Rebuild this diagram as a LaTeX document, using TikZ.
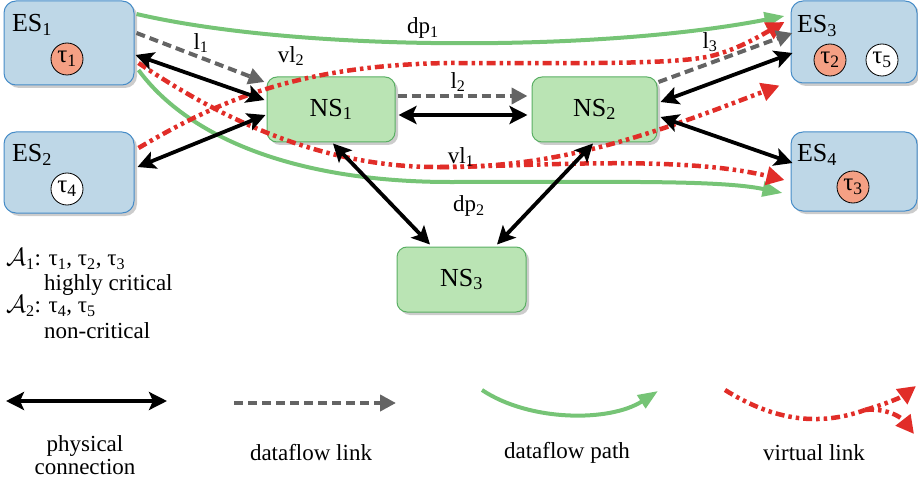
\documentclass[tikz,border=0pt]{standalone}
\usepackage{fontspec}
\setmainfont{Liberation Serif}
\usepackage{amsmath}
\usetikzlibrary{arrows.meta,shadows}
\definecolor{esfill}{RGB}{190,215,231}
\definecolor{esdraw}{RGB}{70,140,200}
\definecolor{nsfill}{RGB}{186,228,180}
\definecolor{nsdraw}{RGB}{90,175,100}
\definecolor{taufill}{RGB}{245,160,132}
\definecolor{pathgreen}{RGB}{118,196,118}
\definecolor{vlred}{RGB}{225,45,40}
\definecolor{flowgray}{RGB}{100,100,100}
\newcommand\sbs[1]{\ensuremath{_{\text{#1}}}}
\tikzset{
  shad/.style={drop shadow={shadow xshift=3pt,shadow yshift=-3pt,fill=black,opacity=0.2}},
  esbox/.style={draw=esdraw,fill=esfill,line width=1pt,rounded corners=12pt,shad,inner sep=0pt},
  nsbox/.style={draw=nsdraw,fill=nsfill,line width=1pt,rounded corners=10pt,shad,inner sep=0pt,minimum width=128pt,minimum height=65pt,font=\fontsize{26}{30}\selectfont},
  eslab/.style={inner sep=0pt,font=\fontsize{26}{30}\selectfont},
  task/.style={circle,draw=black,line width=0.8pt,minimum size=32pt,inner sep=0pt,font=\fontsize{25}{28}\selectfont},
  crit/.style={task,fill=taufill},
  noncrit/.style={task,fill=white},
  lab/.style={inner sep=0pt,font=\fontsize{23}{27}\selectfont},
  phys/.style={line width=3.8pt,black,{Stealth[length=18pt,width=18pt,inset=4pt]}-{Stealth[length=18pt,width=18pt,inset=4pt]}},
  flowlink/.style={line width=4pt,flowgray,dash pattern=on 9pt off 5pt,-{Triangle[length=16pt,width=16pt]}},
  dpath/.style={line width=4pt,pathgreen,-{Triangle[length=20pt,width=15pt]}},
  vlink/.style={line width=4.5pt,vlred,dash pattern=on 9pt off 4pt on 3.5pt off 4pt on 3.5pt off 4pt},
  vlinkarr/.style={vlink,-{Triangle[length=18pt,width=18pt]}}
}
\begin{document}
\begin{tikzpicture}[x=1pt,y=-1pt]
\useasboundingbox (0,0) rectangle (918,484);

% end systems
\node[esbox,minimum width=130pt,minimum height=84pt] (ES1) at (69,43) {};
\node[esbox,minimum width=130pt,minimum height=81pt] (ES2) at (69,172.5) {};
\node[esbox,minimum width=126pt,minimum height=82pt] (ES3) at (854,42) {};
\node[esbox,minimum width=126pt,minimum height=79pt] (ES4) at (854,171.5) {};
\node[eslab] (es1l) at (32,25) {ES\sbs{1}};
\node[eslab] (es2l) at (32,155) {ES\sbs{2}};
\node[eslab] (es3l) at (817,26) {ES\sbs{3}};
\node[eslab] (es4l) at (817,155) {ES\sbs{4}};
\node[crit] (t1) at (67,59) {τ\sbs{1}};
\node[noncrit] (t4) at (67,189) {τ\sbs{4}};
\node[crit] (t2) at (830,60) {τ\sbs{2}};
\node[noncrit] (t5) at (882,60) {τ\sbs{5}};
\node[crit] (t3) at (853,187) {τ\sbs{3}};

% network switches
\node[nsbox] (NS1) at (331,109.5) {NS\sbs{1}};
\node[nsbox,minimum width=125pt] (NS2) at (594.5,109.5) {NS\sbs{2}};
\node[nsbox,minimum width=129pt] (NS3) at (461.5,279.5) {NS\sbs{3}};

% dataflow paths
\draw[dpath] ([shift={(2,-29)}]ES1.east) .. controls (300,52) and (600,52) .. ([shift={(-6,-26)}]ES3.west);
\draw[dpath] ([shift={(4,27)}]ES1.east) .. controls (190,140) and (300,182) .. (450,182)
   .. controls (620,182) and (720,180) .. ([shift={(-8,21.5)}]ES4.west);

% virtual links
\coordinate (vl1m) at (440,167);
\draw[vlink] ([shift={(4,20)}]ES1.east) .. controls (230,125) and (330,168) .. (vl1m);
\draw[vlinkarr] (vl1m) .. controls (540,166) and (680,155) .. ([shift={(-6,8.5)}]ES4.west);
\draw[vlinkarr] (vl1m) .. controls (560,168) and (650,135) .. ([shift={(-11,2)}]ES3.south west);
\draw[vlinkarr] ([shift={(4,-24.5)}]ES2.east) .. controls (220,100) and (300,65) .. (450,63)
   .. controls (580,63) and (680,65) .. (715,55) .. controls (740,48) and (760,36) .. ([shift={(-6,-20)}]ES3.west);

% dataflow links
\draw[flowlink] ([shift={(2,-10)}]ES1.east) -- ([shift={(-2,-27.5)}]NS1.west);
\draw[flowlink] ([shift={(2,-13.5)}]NS1.east) -- ([shift={(-4,-13.5)}]NS2.west);
\draw[flowlink] ([shift={(1,-27.5)}]NS2.east) -- ([shift={(2,-9)}]ES3.west);

% physical connections
\draw[phys] ([shift={(1,12)}]ES1.east) -- ([shift={(-2,-9.5)}]NS1.west);
\draw[phys] ([shift={(3,-5.5)}]ES2.east) -- ([shift={(-1,5.5)}]NS1.west);
\draw[phys] ([shift={(3,5.5)}]NS1.east) -- ([shift={(-4,5.5)}]NS2.west);
\draw[phys] ([shift={(2,1)}]NS1.south) -- ([shift={(-31.5,-2)}]NS3.north);
\draw[phys] ([shift={(-1.5,1)}]NS2.south) -- ([shift={(35.5,-2)}]NS3.north);
\draw[phys] ([shift={(3,-7.5)}]NS2.east) -- ([shift={(2,11)}]ES3.west);
\draw[phys] ([shift={(3,7.5)}]NS2.east) -- ([shift={(2,-8.5)}]ES4.west);

% labels
\node[lab] (lbl1) at (201,43) {l\sbs{1}};
\node[lab] (lblvl2) at (291,56) {vl\sbs{2}};
\node[lab] (lbdp1) at (423,28) {dp\sbs{1}};
\node[lab] (lbl2) at (458,82) {l\sbs{2}};
\node[lab] (lbvl1) at (461,157) {vl\sbs{1}};
\node[lab] (lbdp2) at (469,206) {dp\sbs{2}};
\node[lab] (lbl3) at (710,42) {l\sbs{3}};

% application text
\node[lab,anchor=west] (a1) at (6,259) {$\mathcal{A}_{\text{1}}$: τ\sbs{1}, τ\sbs{2}, τ\sbs{3}};
\node[lab,anchor=west] (a1t) at (44,285) {highly critical};
\node[lab,anchor=west] (a2) at (6,306) {$\mathcal{A}_{\text{2}}$: τ\sbs{4}, τ\sbs{5}};
\node[lab,anchor=west] (a2t) at (44,331) {non-critical};

% legend
\coordinate (lg1a) at (6,401);
\coordinate (lg1b) at (167,401);
\draw[phys] (lg1a) -- (lg1b);
\coordinate (lg2a) at (234,403);
\coordinate (lg2b) at (396,403);
\draw[flowlink] (lg2a) -- (lg2b);
\coordinate (lg3a) at (482,390);
\coordinate (lg3b) at (658,391);
\draw[dpath] (lg3a) .. controls (530,422) and (610,422) .. (lg3b);
\coordinate (lg4a) at (725,390);
\coordinate (lg4m) at (865,410);
\coordinate (lg4b) at (916,386);
\coordinate (lg4c) at (914,434);
\draw[vlink] (lg4a) .. controls (770,418) and (815,428) .. (lg4m);
\draw[vlinkarr] (lg4m) .. controls (885,404) and (900,398) .. (lg4b);
\draw[vlinkarr] (lg4m) .. controls (885,408) and (900,416) .. (lg4c);

\node[lab,align=center] (lgt1) at (85,455) {physical\\[-4pt]connection};
\node[lab] (lgt2) at (311,453) {dataflow link};
\node[lab] (lgt3) at (567,453) {dataflow path};
\node[lab] (lgt4) at (814,453) {virtual link};
\end{tikzpicture}
\end{document}
